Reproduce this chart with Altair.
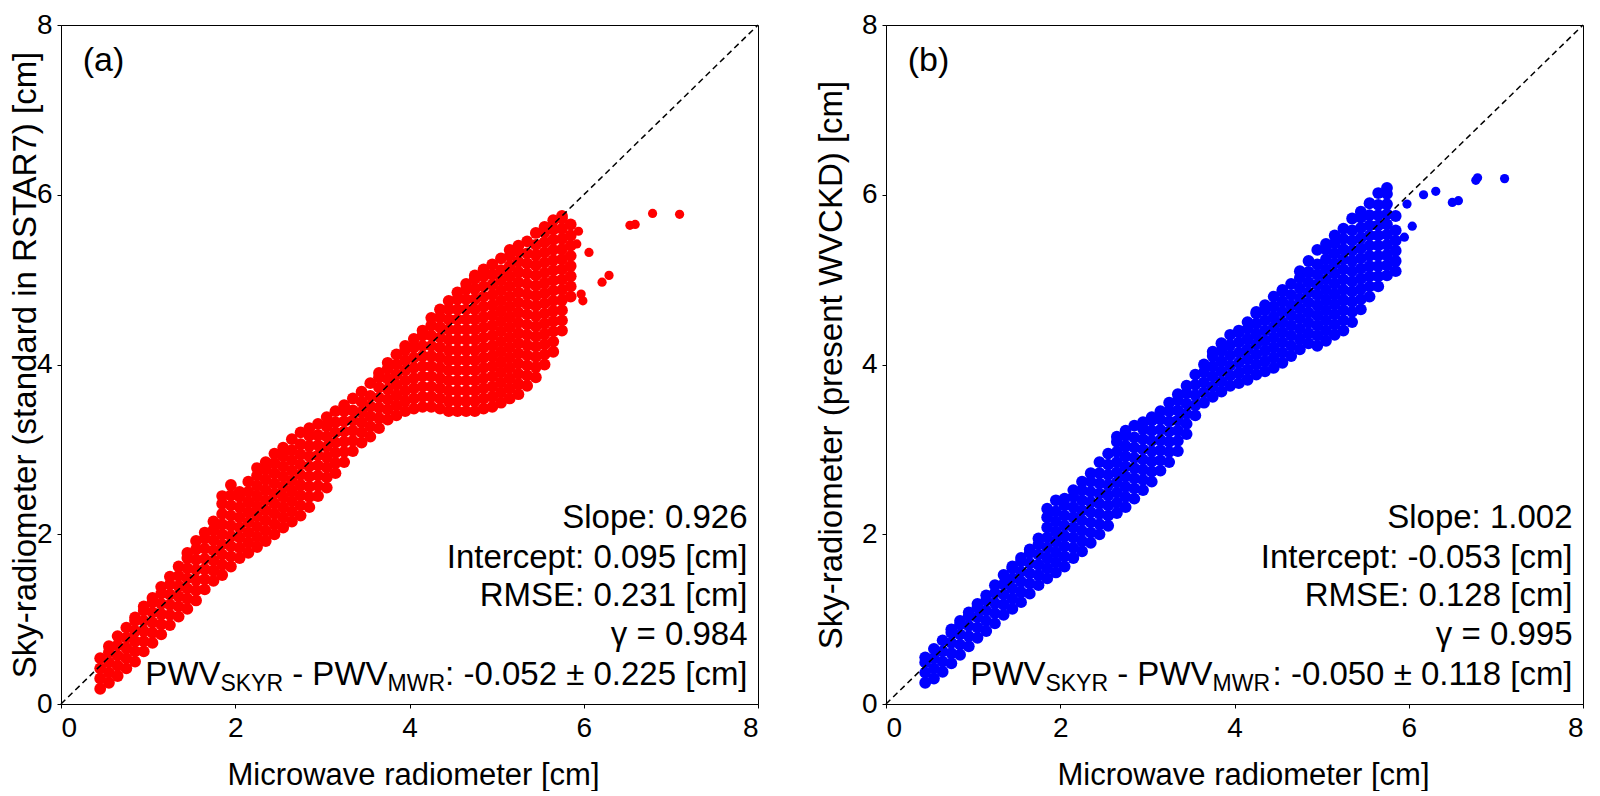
import altair as alt
import pandas as pd

# ---------------- data ----------------
# Panel (a): columns of points  (x, [y values])
A_LOW = [
    (0.45, [0.18, 0.30, 0.42, 0.54]),
    (0.55, [0.25, 0.37, 0.49, 0.61, 0.68]),
    (0.65, [0.33, 0.45, 0.57, 0.69, 0.80]),
    (0.75, [0.42, 0.54, 0.66, 0.78, 0.90]),
    (0.85, [0.50, 0.62, 0.74, 0.86, 0.98, 1.02]),
    (0.95, [0.62, 0.74, 0.86, 0.98, 1.10, 1.15]),
    (1.05, [0.72, 0.84, 0.96, 1.08, 1.20, 1.25]),
    (1.15, [0.82, 0.94, 1.06, 1.18, 1.30, 1.38]),
    (1.25, [0.93, 1.05, 1.17, 1.29, 1.41, 1.50]),
    (1.35, [1.03, 1.15, 1.27, 1.39, 1.51, 1.62]),
    (1.45, [1.12, 1.24, 1.36, 1.48, 1.60, 1.72, 1.78]),
    (1.55, [1.22, 1.34, 1.46, 1.58, 1.70, 1.82, 1.92]),
    (1.65, [1.35, 1.47, 1.59, 1.71, 1.83, 1.95, 2.02]),
    (1.75, [1.45, 1.57, 1.69, 1.81, 1.93, 2.05, 2.15]),
    (1.85, [1.52, 1.64, 1.76, 1.88, 2.00, 2.12, 2.24, 2.36, 2.45]),
    (1.95, [1.62, 1.74, 1.86, 1.98, 2.10, 2.22, 2.34, 2.46, 2.58]),
    (2.05, [1.72, 1.84, 1.96, 2.08, 2.20, 2.32, 2.44, 2.50]),
    (2.15, [1.78, 1.90, 2.02, 2.14, 2.26, 2.38, 2.50, 2.62]),
    (2.25, [1.85, 1.97, 2.09, 2.21, 2.33, 2.45, 2.57, 2.69, 2.78]),
    (2.35, [1.92, 2.04, 2.16, 2.28, 2.40, 2.52, 2.64, 2.76, 2.85]),
    (2.45, [2.00, 2.12, 2.24, 2.36, 2.48, 2.60, 2.72, 2.84, 2.95]),
    (2.55, [2.08, 2.20, 2.32, 2.44, 2.56, 2.68, 2.80, 2.92, 3.02]),
    (2.65, [2.15, 2.27, 2.39, 2.51, 2.63, 2.75, 2.87, 2.99, 3.12]),
    (2.75, [2.22, 2.34, 2.46, 2.58, 2.70, 2.82, 2.94, 3.06, 3.20]),
    (2.85, [2.32, 2.44, 2.56, 2.68, 2.80, 2.92, 3.04, 3.16, 3.25]),
    (2.95, [2.45, 2.57, 2.69, 2.81, 2.93, 3.05, 3.17, 3.30]),
    (3.05, [2.55, 2.67, 2.79, 2.91, 3.03, 3.15, 3.27, 3.38]),
    (3.15, [2.72, 2.84, 2.96, 3.08, 3.20, 3.32, 3.45]),
    (3.25, [2.85, 2.97, 3.09, 3.21, 3.33, 3.45, 3.52]),
    (3.35, [2.98, 3.10, 3.22, 3.34, 3.46, 3.60]),
    (3.45, [3.08, 3.20, 3.32, 3.44, 3.56, 3.68]),
    (3.55, [3.15, 3.27, 3.39, 3.51, 3.63, 3.78]),
]
A_BLOB = [
    (3.65, [3.25, 3.37, 3.49, 3.61, 3.73, 3.85, 3.90]),
    (3.75, [3.35, 3.47, 3.59, 3.71, 3.83, 3.95, 4.02]),
    (3.85, [3.40, 3.52, 3.64, 3.76, 3.88, 4.00, 4.12]),
    (3.95, [3.45, 3.57, 3.69, 3.81, 3.93, 4.05, 4.17, 4.22]),
    (4.05, [3.48, 3.60, 3.72, 3.84, 3.96, 4.08, 4.20, 4.30]),
    (4.15, [3.50, 3.62, 3.74, 3.86, 3.98, 4.10, 4.22, 4.34, 4.40]),
    (4.25, [3.50, 3.62, 3.74, 3.86, 3.98, 4.10, 4.22, 4.34, 4.46, 4.55]),
    (4.35, [3.48, 3.60, 3.72, 3.84, 3.96, 4.08, 4.20, 4.32, 4.44, 4.56, 4.65]),
    (4.45, [3.45, 3.57, 3.69, 3.81, 3.93, 4.05, 4.17, 4.29, 4.41, 4.53, 4.65, 4.75]),
    (4.55, [3.45, 3.57, 3.69, 3.81, 3.93, 4.05, 4.17, 4.29, 4.41, 4.53, 4.65, 4.77, 4.85]),
    (4.65, [3.45, 3.57, 3.69, 3.81, 3.93, 4.05, 4.17, 4.29, 4.41, 4.53, 4.65, 4.77, 4.89, 4.95]),
    (4.75, [3.45, 3.57, 3.69, 3.81, 3.93, 4.05, 4.17, 4.29, 4.41, 4.53, 4.65, 4.77, 4.89, 5.01, 5.05]),
    (4.85, [3.48, 3.60, 3.72, 3.84, 3.96, 4.08, 4.20, 4.32, 4.44, 4.56, 4.68, 4.80, 4.92, 5.04, 5.12]),
    (4.95, [3.50, 3.62, 3.74, 3.86, 3.98, 4.10, 4.22, 4.34, 4.46, 4.58, 4.70, 4.82, 4.94, 5.06, 5.18]),
    (5.05, [3.55, 3.67, 3.79, 3.91, 4.03, 4.15, 4.27, 4.39, 4.51, 4.63, 4.75, 4.87, 4.99, 5.11, 5.25]),
    (5.15, [3.60, 3.72, 3.84, 3.96, 4.08, 4.20, 4.32, 4.44, 4.56, 4.68, 4.80, 4.92, 5.04, 5.16, 5.28, 5.35]),
    (5.25, [3.65, 3.77, 3.89, 4.01, 4.13, 4.25, 4.37, 4.49, 4.61, 4.73, 4.85, 4.97, 5.09, 5.21, 5.33, 5.40]),
    (5.35, [3.75, 3.87, 3.99, 4.11, 4.23, 4.35, 4.47, 4.59, 4.71, 4.83, 4.95, 5.07, 5.19, 5.31, 5.45]),
    (5.45, [3.85, 3.97, 4.09, 4.21, 4.33, 4.45, 4.57, 4.69, 4.81, 4.93, 5.05, 5.17, 5.29, 5.41, 5.55]),
    (5.55, [4.00, 4.12, 4.24, 4.36, 4.48, 4.60, 4.72, 4.84, 4.96, 5.08, 5.20, 5.32, 5.44, 5.56, 5.62]),
    (5.65, [4.15, 4.27, 4.39, 4.51, 4.63, 4.75, 4.87, 4.99, 5.11, 5.23, 5.35, 5.47, 5.59, 5.70]),
    (5.75, [4.40, 4.52, 4.64, 4.76, 4.88, 5.00, 5.12, 5.24, 5.36, 5.48, 5.60, 5.72, 5.75]),
    (5.85, [4.80, 4.92, 5.04, 5.16, 5.28, 5.40, 5.52, 5.65]),
]
A_OUT_X = [5.94, 5.92, 5.97, 5.99, 6.06, 6.21, 6.29, 6.53, 6.59, 6.79, 7.10]
A_OUT_Y = [5.57, 5.42, 4.83, 4.75, 5.32, 4.97, 5.05, 5.64, 5.65, 5.78, 5.77]

# Panel (b)
B_LOW = [
    (0.45, [0.25, 0.37, 0.49, 0.55]),
    (0.55, [0.30, 0.42, 0.54, 0.65]),
    (0.65, [0.38, 0.50, 0.62, 0.75]),
    (0.75, [0.48, 0.60, 0.72, 0.84, 0.88]),
    (0.85, [0.58, 0.70, 0.82, 0.94, 0.98]),
    (0.95, [0.68, 0.80, 0.92, 1.04, 1.08]),
    (1.05, [0.78, 0.90, 1.02, 1.14, 1.18]),
    (1.15, [0.86, 0.98, 1.10, 1.22, 1.28]),
    (1.25, [0.95, 1.07, 1.19, 1.31, 1.40]),
    (1.35, [1.05, 1.17, 1.29, 1.41, 1.52]),
    (1.45, [1.12, 1.24, 1.36, 1.48, 1.60, 1.62]),
    (1.55, [1.20, 1.32, 1.44, 1.56, 1.68, 1.72]),
    (1.65, [1.30, 1.42, 1.54, 1.66, 1.78, 1.82]),
    (1.75, [1.40, 1.52, 1.64, 1.76, 1.88, 1.95]),
    (1.85, [1.48, 1.60, 1.72, 1.84, 1.96, 2.08, 2.20, 2.30]),
    (1.95, [1.55, 1.67, 1.79, 1.91, 2.03, 2.15, 2.27, 2.40]),
    (2.05, [1.62, 1.74, 1.86, 1.98, 2.10, 2.22, 2.34, 2.42]),
    (2.15, [1.72, 1.84, 1.96, 2.08, 2.20, 2.32, 2.44, 2.52]),
    (2.25, [1.80, 1.92, 2.04, 2.16, 2.28, 2.40, 2.52, 2.62]),
    (2.35, [1.90, 2.02, 2.14, 2.26, 2.38, 2.50, 2.62, 2.72]),
    (2.45, [2.00, 2.12, 2.24, 2.36, 2.48, 2.60, 2.72, 2.85]),
    (2.55, [2.10, 2.22, 2.34, 2.46, 2.58, 2.70, 2.82, 2.95]),
    (2.65, [2.25, 2.37, 2.49, 2.61, 2.73, 2.85, 2.97, 3.09, 3.15]),
    (2.75, [2.32, 2.44, 2.56, 2.68, 2.80, 2.92, 3.04, 3.16, 3.22]),
    (2.85, [2.42, 2.54, 2.66, 2.78, 2.90, 3.02, 3.14, 3.28]),
    (2.95, [2.52, 2.64, 2.76, 2.88, 3.00, 3.12, 3.24, 3.32]),
    (3.05, [2.62, 2.74, 2.86, 2.98, 3.10, 3.22, 3.34, 3.38]),
    (3.15, [2.75, 2.87, 2.99, 3.11, 3.23, 3.35, 3.45]),
    (3.25, [2.85, 2.97, 3.09, 3.21, 3.33, 3.45, 3.55]),
    (3.35, [2.98, 3.10, 3.22, 3.34, 3.46, 3.58, 3.65]),
    (3.45, [3.18, 3.30, 3.42, 3.54, 3.66, 3.75]),
    (3.55, [3.40, 3.52, 3.64, 3.76, 3.88]),
]
B_BLOB = [
    (3.65, [3.55, 3.67, 3.79, 3.91, 4.00]),
    (3.75, [3.62, 3.74, 3.86, 3.98, 4.10, 4.15]),
    (3.85, [3.68, 3.80, 3.92, 4.04, 4.16, 4.25]),
    (3.95, [3.75, 3.87, 3.99, 4.11, 4.23, 4.35]),
    (4.05, [3.78, 3.90, 4.02, 4.14, 4.26, 4.38, 4.40]),
    (4.15, [3.82, 3.94, 4.06, 4.18, 4.30, 4.42, 4.50]),
    (4.25, [3.88, 4.00, 4.12, 4.24, 4.36, 4.48, 4.60, 4.62]),
    (4.35, [3.92, 4.04, 4.16, 4.28, 4.40, 4.52, 4.64, 4.70]),
    (4.45, [3.96, 4.08, 4.20, 4.32, 4.44, 4.56, 4.68, 4.80]),
    (4.55, [4.02, 4.14, 4.26, 4.38, 4.50, 4.62, 4.74, 4.86, 4.88]),
    (4.65, [4.10, 4.22, 4.34, 4.46, 4.58, 4.70, 4.82, 4.95]),
    (4.75, [4.18, 4.30, 4.42, 4.54, 4.66, 4.78, 4.90, 5.02, 5.10]),
    (4.85, [4.25, 4.37, 4.49, 4.61, 4.73, 4.85, 4.97, 5.09, 5.22]),
    (4.95, [4.22, 4.34, 4.46, 4.58, 4.70, 4.82, 4.94, 5.06, 5.18, 5.35]),
    (5.05, [4.28, 4.40, 4.52, 4.64, 4.76, 4.88, 5.00, 5.12, 5.24, 5.36, 5.42]),
    (5.15, [4.35, 4.47, 4.59, 4.71, 4.83, 4.95, 5.07, 5.19, 5.31, 5.43, 5.52]),
    (5.25, [4.40, 4.52, 4.64, 4.76, 4.88, 5.00, 5.12, 5.24, 5.36, 5.48, 5.60]),
    (5.35, [4.50, 4.62, 4.74, 4.86, 4.98, 5.10, 5.22, 5.34, 5.46, 5.58, 5.72]),
    (5.45, [4.65, 4.77, 4.89, 5.01, 5.13, 5.25, 5.37, 5.49, 5.61, 5.73, 5.80]),
    (5.55, [4.80, 4.92, 5.04, 5.16, 5.28, 5.40, 5.52, 5.64, 5.76, 5.90]),
    (5.65, [4.92, 5.04, 5.16, 5.28, 5.40, 5.52, 5.64, 5.76, 5.88, 6.02]),
    (5.75, [5.05, 5.17, 5.29, 5.41, 5.53, 5.65, 5.77, 5.89, 6.01, 6.08]),
    (5.85, [5.10, 5.22, 5.34, 5.46, 5.58, 5.75]),
]
B_OUT_X = [5.95, 5.98, 6.04, 6.17, 6.31, 6.50, 6.57, 6.77, 6.79, 7.10]
B_OUT_Y = [5.50, 5.89, 5.63, 6.00, 6.04, 5.91, 5.93, 6.17, 6.20, 6.19]

# 1:1 line
LINE_X = [0, 8]
LINE_Y = [0, 8]

# texts
TICKS = [0, 2, 4, 6, 8]
X_TITLE = "Microwave radiometer [cm]"
A_YTITLE = "Sky-radiometer (standard in RSTAR7) [cm]"
B_YTITLE = "Sky-radiometer (present WVCKD) [cm]"
A_STATS = ["Slope: 0.926", "Intercept: 0.095 [cm]", "RMSE: 0.231 [cm]", "γ = 0.984"]
B_STATS = ["Slope: 1.002", "Intercept: -0.053 [cm]", "RMSE: 0.128 [cm]", "γ = 0.995"]
A_DIFF = ": -0.052 ± 0.225 [cm]"
B_DIFF = ": -0.050 ± 0.118 [cm]"
STAT_Y = [2.07, 1.605, 1.15, 0.69]
PWV_Y = 0.225
TEXT_X = 7.88

FONT = "Liberation Sans"
W, H = 697, 679


def cloud_df(low, blob):
    rows = [(x, y) for x, ys in low + blob for y in ys]
    return pd.DataFrame(rows, columns=["x", "y"])


def panel(cloud, out, color, ytitle, tag, stats, diff, ytitle_x, xtitle_x):
    sx = alt.Scale(domain=[0, 8], nice=False)
    sy = alt.Scale(domain=[0, 8], nice=False)
    pts = alt.Chart(cloud).mark_circle(size=140, opacity=1, color=color).encode(
        x=alt.X("x:Q", scale=sx, axis=alt.Axis(
            values=TICKS, format="d", title=X_TITLE, titleFontSize=31,
            titleFontWeight="normal", titleX=xtitle_x, titleY=80,
            titleBaseline="alphabetic", titleAlign="center")),
        y=alt.Y("y:Q", scale=sy, axis=alt.Axis(
            values=TICKS, format="d", title=ytitle, titleFontSize=33,
            titleFontWeight="normal", titleX=ytitle_x, titleY=H / 2, titleAngle=-90,
            titleAlign="center", titleBaseline="alphabetic")),
    )
    outl = alt.Chart(out).mark_circle(size=85, opacity=1, color=color).encode(
        x="x:Q", y="y:Q"
    )
    line = alt.Chart(pd.DataFrame({"x": LINE_X, "y": LINE_Y})).mark_line(
        color="black", strokeDash=[6, 4], strokeWidth=1.5
    ).encode(x="x:Q", y="y:Q")

    tag_t = alt.Chart(pd.DataFrame({"x": [0.25], "y": [7.46], "t": [tag]})).mark_text(
        align="left", baseline="alphabetic", fontSize=34, font=FONT, color="black"
    ).encode(x="x:Q", y="y:Q", text="t:N")

    stats_t = alt.Chart(pd.DataFrame({"x": [TEXT_X] * 4, "y": STAT_Y, "t": stats})).mark_text(
        align="right", baseline="alphabetic", fontSize=33, font=FONT, color="black"
    ).encode(x="x:Q", y="y:Q", text="t:N")

    def piece(txt, dx, size, dy):
        return alt.Chart(pd.DataFrame({"x": [TEXT_X], "y": [PWV_Y], "t": [txt]})).mark_text(
            align="right", baseline="alphabetic", fontSize=size, font=FONT, color="black",
            dx=dx, dy=dy
        ).encode(x="x:Q", y="y:Q", text="t:N")

    pieces = [
        piece(diff, 0, 33, 0),
        piece("MWR", -302.5, 23, 6),
        piece("- PWV", -360.0, 33, 0),
        piece("SKYR", -464.5, 23, 6),
        piece("PWV", -527.0, 33, 0),
    ]
    return alt.layer(pts, outl, line, tag_t, stats_t, *pieces).properties(width=W, height=H)


dfa = cloud_df(A_LOW, A_BLOB)
dfb = cloud_df(B_LOW, B_BLOB)
oa = pd.DataFrame({"x": A_OUT_X, "y": A_OUT_Y})
ob = pd.DataFrame({"x": B_OUT_X, "y": B_OUT_Y})

pa = panel(dfa, oa, "#ff0000", A_YTITLE, "(a)", A_STATS, A_DIFF, -26, 352)
pb = panel(dfb, ob, "#0000ff", B_YTITLE, "(b)", B_STATS, B_DIFF, -45, 357)

chart = alt.hconcat(pa, pb, spacing=52).properties(
    padding={"left": 0, "top": 2, "right": 0, "bottom": 0}
).configure(font=FONT).configure_view(
    stroke="black", strokeWidth=1
).configure_axis(
    labelFont=FONT, titleFont=FONT, labelFontSize=28, labelColor="black",
    titleColor="black", domainColor="black", tickColor="black", grid=False,
    tickSize=4, labelPadding=5, domainWidth=1, tickWidth=1
).configure_axisX(labelPadding=6)

chart.save("out.html", embed_options={"renderer": "svg", "actions": False})
